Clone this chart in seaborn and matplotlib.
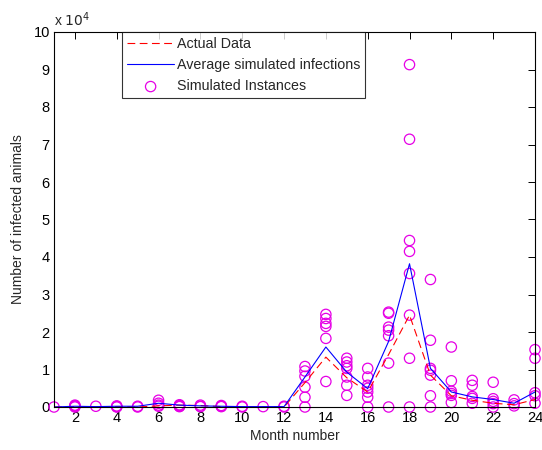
import matplotlib
matplotlib.use("Agg")
import matplotlib.pyplot as plt
import seaborn as sns
import pandas as pd
import numpy as np
from matplotlib.ticker import FuncFormatter

months = list(range(1, 25))
actual = [0, 100, 0, 100, 0, 300, 500, 400, 100, 0, 0, 0,
          6500, 13300, 7800, 4000, 14000, 24500, 8500, 3000, 1800, 1000, 600, 2000]
average = [0, 200, 100, 200, 200, 1000, 500, 300, 200, 100, 100, 100,
           8000, 16000, 9300, 4900, 17500, 38200, 10300, 4000, 2700, 2000, 1000, 4000]

sim_months = [1, 2, 2, 2, 2, 3, 4, 4, 4, 5, 5, 6, 6, 6, 6, 7, 7, 7, 7, 7,
              8, 8, 8, 9, 9, 9, 10, 10, 11, 12, 12,
              13, 13, 13, 13, 13, 13,
              14, 14, 14, 14, 14, 14,
              15, 15, 15, 15, 15, 15, 15,
              16, 16, 16, 16, 16, 16, 16,
              17, 17, 17, 17, 17, 17, 17,
              18, 18, 18, 18, 18, 18, 18, 18,
              19, 19, 19, 19, 19, 19, 19,
              20, 20, 20, 20, 20, 20,
              21, 21, 21, 21, 21,
              22, 22, 22, 22, 22,
              23, 23, 23,
              24, 24, 24, 24, 24]
sim_values = [0, 500, 300, 0, 200, 200, 300, 100, 0, 200, 0, 1800, 1000, 500, 200, 600, 400, 300, 200, 100,
              500, 200, 100, 400, 200, 100, 200, 0, 100, 200, 0,
              10800, 9600, 8200, 5300, 2600, 0,
              24700, 23600, 22300, 21500, 18300, 6800,
              13000, 12000, 11000, 10300, 8000, 5800, 3100,
              10300, 8000, 5800, 5000, 4000, 2600, 0,
              25300, 25000, 21300, 20500, 19000, 11700, 0,
              91300, 71400, 44400, 41500, 35600, 24500, 13000, 0,
              34000, 17800, 10300, 9800, 8500, 3000, 0,
              16000, 7000, 4200, 3600, 3100, 1200,
              7100, 5800, 2800, 2300, 1000,
              6600, 2200, 1500, 900, 0,
              1900, 900, 300,
              15300, 13000, 3800, 3000, 1000]

lines_df = pd.DataFrame({"month": months, "actual": actual, "average": average})
sim_df = pd.DataFrame({"month": sim_months, "value": sim_values})

sns.set_style("white")
plt.rcParams['font.family'] = ['Liberation Sans', 'DejaVu Sans']
plt.rcParams['font.size'] = 10

fig = plt.figure(figsize=(5.42, 4.5), dpi=100)
ax = fig.add_axes([54/542, 1 - 407/450, (535-54)/542, (407-32)/450])

sns.lineplot(data=lines_df, x="month", y="actual", ax=ax, color="#FF0000",
             linewidth=0.8, dashes=False, label="Actual Data")
ax.lines[-1].set_dashes([7, 4])
sns.lineplot(data=lines_df, x="month", y="average", ax=ax, color="#0000FF",
             linewidth=0.8, label="Average simulated infections")
sns.scatterplot(data=sim_df, x="month", y="value", ax=ax, marker="o",
                s=55, facecolors="none", edgecolor="#E600E6", linewidth=0.9,
                label="Simulated Instances", clip_on=False)

ax.set_xlim(1, 24)
ax.set_ylim(0, 100000)
ax.set_xticks(range(2, 25, 2))
ax.set_yticks(np.arange(0, 100001, 10000))
ax.yaxis.set_major_formatter(FuncFormatter(lambda v, p: f"{int(round(v/10000))}"))
ax.tick_params(direction="in", length=5, width=0.7, top=True, right=True,
               labelsize=10.5, colors="#000000", pad=3)
for s in ax.spines.values():
    s.set_color("#000000")
    s.set_linewidth(0.8)
ax.set_xlabel("Month number", fontsize=10, labelpad=3)
ax.set_ylabel("Number of infected animals", fontsize=10, labelpad=6)
ax.text(0.0, 1.008, r"x $10^{4}$", transform=ax.transAxes, fontsize=10, ha="left", va="bottom")

leg = ax.legend(loc="upper left", bbox_to_anchor=((122-54)/481, 1.0), frameon=True,
                fancybox=False, edgecolor="#000000", fontsize=10.3, borderpad=0.35,
                labelspacing=0.5, handlelength=3.3, handletextpad=0.2, borderaxespad=0)
leg.get_frame().set_linewidth(0.8)

fig.savefig("out.png", dpi=100, facecolor="white")
